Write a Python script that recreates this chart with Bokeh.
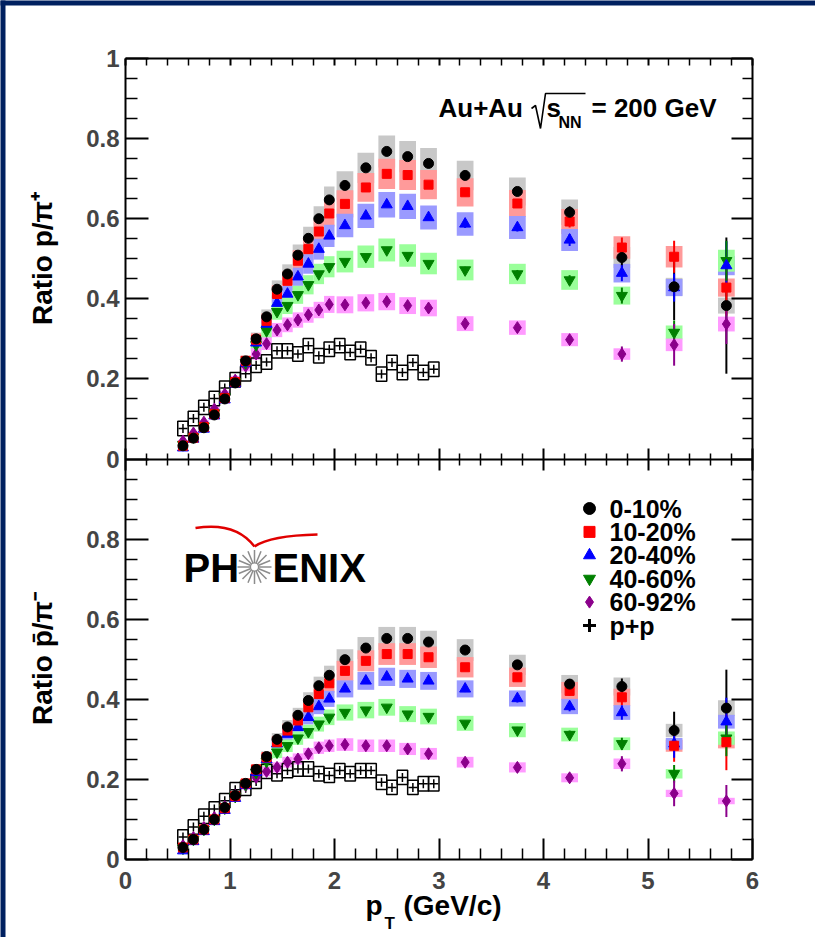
import numpy as np
from bokeh.plotting import figure
from bokeh.models import Range1d, LinearAxis, FixedTicker, Label, ColumnDataSource
from bokeh.embed import file_html
from bokeh.resources import INLINE
from bokeh.core.properties import value

# ------------------------------------------------------------------ data
centralities = ["0-10%", "10-20%", "20-40%", "40-60%", "60-92%"]
pp_name = "p+p"

pt_auau = [0.55, 0.65, 0.75, 0.85, 0.95, 1.05, 1.15, 1.25, 1.35, 1.45,
           1.55, 1.65, 1.75, 1.85, 1.95, 2.1, 2.3, 2.5, 2.7, 2.9,
           3.25, 3.75, 4.25, 4.75, 5.25, 5.75]
pt_pp = [0.55, 0.65, 0.75, 0.85, 0.95, 1.05, 1.15, 1.25, 1.35, 1.45,
         1.55, 1.65, 1.75, 1.85, 1.95, 2.05, 2.15, 2.25, 2.35, 2.45,
         2.55, 2.65, 2.75, 2.85, 2.95]

# p / pi+  (upper panel)
p_pip_0_10 = [0.033, 0.052, 0.078, 0.110, 0.150, 0.190, 0.245, 0.300, 0.355, 0.424,
              0.462, 0.509, 0.551, 0.600, 0.647, 0.683, 0.727, 0.768, 0.755, 0.738,
              0.708, 0.668, 0.616, 0.503, 0.430, 0.383]
p_pip_10_20 = [0.033, 0.053, 0.080, 0.112, 0.152, 0.192, 0.245, 0.298, 0.345, 0.412,
               0.445, 0.495, 0.524, 0.568, 0.613, 0.637, 0.678, 0.712, 0.709, 0.685,
               0.666, 0.638, 0.593, 0.528, 0.505, 0.428]
p_pip_20_40 = [0.028, 0.050, 0.075, 0.108, 0.148, 0.188, 0.240, 0.290, 0.337, 0.389,
               0.412, 0.455, 0.487, 0.524, 0.557, 0.583, 0.607, 0.635, 0.631, 0.603,
               0.587, 0.578, 0.547, 0.464, 0.428, 0.483]
p_pip_40_60 = [0.036, 0.055, 0.082, 0.115, 0.155, 0.193, 0.240, 0.285, 0.320, 0.368,
               0.383, 0.410, 0.435, 0.462, 0.480, 0.493, 0.505, 0.522, 0.508, 0.488,
               0.472, 0.462, 0.447, 0.408, 0.316, 0.495]
p_pip_60_92 = [0.045, 0.065, 0.092, 0.125, 0.162, 0.197, 0.232, 0.262, 0.288, 0.322,
               0.335, 0.347, 0.360, 0.372, 0.386, 0.385, 0.390, 0.393, 0.383, 0.377,
               0.338, 0.328, 0.298, 0.262, 0.285, 0.337]
p_pip_pp = [0.076, 0.101, 0.129, 0.151, 0.177, 0.198, 0.213, 0.234, 0.242, 0.270,
            0.270, 0.262, 0.283, 0.258, 0.274, 0.283, 0.266, 0.274, 0.253, 0.212,
            0.241, 0.216, 0.241, 0.216, 0.224]

# pbar / pi-  (lower panel)
pbar_pim_0_10 = [0.030, 0.050, 0.075, 0.100, 0.130, 0.160, 0.190, 0.225, 0.257, 0.300,
                 0.331, 0.360, 0.397, 0.434, 0.460, 0.499, 0.528, 0.552, 0.552, 0.543,
                 0.523, 0.486, 0.438, 0.432, 0.322, 0.378]
pbar_pim_10_20 = [0.030, 0.050, 0.075, 0.100, 0.128, 0.158, 0.190, 0.225, 0.255, 0.293,
                  0.322, 0.347, 0.380, 0.413, 0.440, 0.471, 0.496, 0.513, 0.513, 0.505,
                  0.480, 0.455, 0.421, 0.405, 0.284, 0.293]
pbar_pim_20_40 = [0.022, 0.045, 0.070, 0.095, 0.123, 0.153, 0.185, 0.218, 0.250, 0.289,
                  0.313, 0.330, 0.355, 0.382, 0.401, 0.426, 0.446, 0.456, 0.451, 0.446,
                  0.426, 0.402, 0.382, 0.367, 0.289, 0.344]
pbar_pim_40_60 = [0.028, 0.050, 0.075, 0.100, 0.128, 0.157, 0.187, 0.217, 0.245, 0.268,
                  0.284, 0.303, 0.319, 0.338, 0.355, 0.367, 0.373, 0.380, 0.363, 0.357,
                  0.340, 0.323, 0.312, 0.289, 0.214, 0.303]
pbar_pim_60_92 = [0.035, 0.055, 0.080, 0.105, 0.132, 0.160, 0.185, 0.205, 0.220, 0.230,
                  0.243, 0.251, 0.264, 0.279, 0.284, 0.287, 0.284, 0.284, 0.276, 0.264,
                  0.243, 0.230, 0.204, 0.239, 0.165, 0.146]
pbar_pim_pp = [0.056, 0.081, 0.108, 0.126, 0.147, 0.174, 0.178, 0.195, 0.220, 0.214,
               0.222, 0.226, 0.226, 0.214, 0.210, 0.222, 0.214, 0.222, 0.222, 0.193,
               0.180, 0.205, 0.180, 0.189, 0.189]

# statistical errors of the six highest-pT bins (3.25 ... 5.75 GeV/c);
# at lower pT they are hidden under the markers
stat_p_pip = [[0.010, 0.010, 0.015, 0.030, 0.083, 0.170],
              [0.010, 0.010, 0.015, 0.025, 0.040, 0.070],
              [0.010, 0.010, 0.015, 0.020, 0.035, 0.060],
              [0.008, 0.010, 0.012, 0.020, 0.030, 0.050],
              [0.005, 0.006, 0.008, 0.019, 0.052, 0.050]]
stat_pbar_pim = [[0.008, 0.010, 0.012, 0.020, 0.047, 0.096],
                 [0.008, 0.010, 0.012, 0.020, 0.040, 0.070],
                 [0.008, 0.010, 0.012, 0.018, 0.035, 0.060],
                 [0.006, 0.008, 0.010, 0.015, 0.022, 0.045],
                 [0.005, 0.006, 0.008, 0.019, 0.032, 0.040]]
# relative systematic uncertainty (box half height) per centrality, absolute for p+p
sys_rel = [0.052, 0.053, 0.050, 0.055, 0.055]
sys_pp = 0.018

x_tick_labels = ["0", "1", "2", "3", "4", "5", "6"]

# ------------------------------------------------------------------ style / layout
FONT = "Liberation Sans"
marker_colors = ["#000000", "#ff0000", "#0000ff", "#008000", "#8b008b"]
box_colors = ["#c8c8c8", "#ff9a9a", "#9a9aff", "#9aff9a", "#ff9aff"]
markers = ["circle", "square", "triangle", "inverted_triangle", "diamond"]
msizes = [10, 9, 11, 11, 12]
SLIDE_BLUE = "#002060"

W, H = 815, 937
# page pixel position of data x=0 / y=0 and the pixel scale of each unit
X_PX0, X_PX_PER = 125.0, 104.5
Y_PX0, Y_PX_PER = 859.0, 400.5


def dx(px):  # page pixel -> data x (layout helper for annotations)
    return (px - X_PX0) / X_PX_PER


def dy(py):  # page pixel -> data y of the default (lower panel) range
    return (Y_PX0 - py) / Y_PX_PER


p = figure(width=W, height=H, x_range=Range1d(dx(0), dx(W)), y_range=Range1d(dy(H), dy(0)),
           output_backend="svg", toolbar_location=None,
           x_axis_location=None, y_axis_location=None, min_border=0,
           min_border_left=0, min_border_right=0, min_border_top=0, min_border_bottom=0)
# upper panel: its value v sits at v + 1 of the lower-panel scale
p.extra_y_ranges = {"top": Range1d(dy(H) - 1, dy(0) - 1)}
p.background_fill_color = "white"
p.border_fill_color = "white"
p.outline_line_color = None
p.grid.visible = False

# dark slide border (left and top strips)
p.quad(left=[dx(-10), dx(-10)], right=[dx(5), dx(W + 10)],
       bottom=[dy(H + 10), dy(5)], top=[dy(-10), dy(-10)],
       fill_color=SLIDE_BLUE, line_color=None)

# ------------------------------------------------------------------ axes
x_major = list(range(7))
x_minor = [round(0.2 * k, 1) for k in range(31) if k % 5]
y_major = [round(0.2 * k, 1) for k in range(11)]
y_minor = [round(0.05 * k, 2) for k in range(41) if k % 4]
y_over = {t: ("%g" % (round(t - 1, 1) if t >= 1 else t)) for t in y_major}


def make_axis(loc, bounds, ticks, minor, maj_in, min_in, maj_out=0, min_out=0,
              labels=None):
    ax = LinearAxis(fixed_location=loc, bounds=bounds,
                    ticker=FixedTicker(ticks=ticks, minor_ticks=minor))
    ax.axis_line_width = 2
    ax.major_tick_in = maj_in
    ax.major_tick_out = maj_out
    ax.minor_tick_in = min_in
    ax.minor_tick_out = min_out
    ax.major_tick_line_width = 2
    ax.minor_tick_line_width = 1.5
    ax.major_label_text_font = FONT
    ax.major_label_text_font_style = "bold"
    ax.major_label_text_font_size = "24px"
    if labels is None:
        ax.major_label_text_color = None
    else:
        ax.major_label_overrides = labels
    return ax


xb = make_axis(0, (0, 6), x_major, x_minor, 21, 11,
               labels={i: s for i, s in zip(x_major, x_tick_labels)})
xb.major_label_standoff = 12
p.add_layout(xb, "below")
p.add_layout(make_axis(2, (0, 6), x_major, x_minor, 7, 7), "above")
# boundary between the panels: ticks point into both panels
p.add_layout(make_axis(1, (0, 6), x_major, x_minor, 11, 6, 11, 6), "below")

yl = make_axis(0, (0, 2), y_major, y_minor, 23, 12, labels=y_over)
yl.major_label_standoff = 6
p.add_layout(yl, "left")
p.add_layout(make_axis(6, (0, 2), y_major, y_minor, 21, 10), "right")


# ------------------------------------------------------------------ panels
def draw_panel(series, stats, pp_vals, range_name):
    kw = {"y_range_name": range_name} if range_name else {}
    pt = np.array(pt_auau)
    bw = np.where(pt < 2.0, 0.1, 0.16)
    # systematic boxes
    for vals, rel, col in zip(series, sys_rel, box_colors):
        v = np.array(vals)
        p.rect(x=pt, y=v, width=bw, height=2 * rel * v, fill_color=col,
               line_color=None, **kw)
    # p+p: open boxes + cross markers
    p.rect(x=pt_pp, y=pp_vals, width=0.1, height=2 * sys_pp, fill_color=None,
           line_color="black", line_width=1.5, **kw)
    p.scatter(x=pt_pp, y=pp_vals, marker="cross", size=9, line_color="black",
              line_width=1.5, **kw)
    # statistical error bars
    for vals, st, col in zip(series, stats, marker_colors):
        v = np.array(vals)
        e = np.concatenate([np.zeros(len(pt) - len(st)), np.array(st)])
        m = e > 0
        p.segment(x0=pt[m], y0=v[m] - e[m], x1=pt[m], y1=v[m] + e[m],
                  line_color=col, line_width=2, **kw)
    # markers (most central on top)
    for vals, col, mk, sz in reversed(list(zip(series, marker_colors, markers, msizes))):
        p.scatter(x=pt, y=vals, marker=mk, size=sz, fill_color=col, line_color=col, **kw)


draw_panel([p_pip_0_10, p_pip_10_20, p_pip_20_40, p_pip_40_60, p_pip_60_92],
           stat_p_pip, p_pip_pp, "top")
draw_panel([pbar_pim_0_10, pbar_pim_10_20, pbar_pim_20_40, pbar_pim_40_60, pbar_pim_60_92],
           stat_pbar_pim, pbar_pim_pp, None)

# ------------------------------------------------------------------ legend (lower panel)
leg_labels = centralities + [pp_name]
leg_y = [dy(508 + 23.4 * i) for i in range(len(leg_labels))]
leg_src = ColumnDataSource(dict(
    x=[dx(589)] * len(leg_labels), y=leg_y, tx=[dx(609)] * len(leg_labels),
    label=leg_labels, marker=markers + ["cross"], color=marker_colors + ["#000000"],
    size=[12, 11, 12, 12, 12, 13], lw=[1, 1, 1, 1, 1, 3]))
p.scatter(x="x", y="y", marker="marker", size="size", fill_color="color",
          line_color="color", line_width="lw", source=leg_src)
p.text(x="tx", y="y", text="label", source=leg_src, text_font=value(FONT),
       text_font_style="bold", text_font_size="25px", text_baseline="middle",
       text_color="black")


# ------------------------------------------------------------------ texts
def add_label(px, py, text, size, align="left", angle=0.0, color="black"):
    # (px, py): page position of the left edge / vertical centre of the text
    p.add_layout(Label(x=dx(px), y=dy(py), text=text, text_font=FONT,
                       text_font_size=f"{size}px", text_font_style="bold",
                       text_align=align, text_baseline="middle", angle=angle,
                       text_color=color))


# collision system
add_label(438, 107.5, "Au+Au", 26)
p.line(x=[dx(531), dx(535), dx(540), dx(545), dx(585)],
       y=[dy(108), dy(105), dy(128), dy(93), dy(93)], line_color="black", line_width=1.6)
add_label(546, 107.5, "s", 26)
add_label(558, 121.5, "NN", 16)
add_label(591, 107.5, "= 200 GeV", 26)

# axis titles
add_label(42, 258, "Ratio p/\u03c0\u207a", 28, align="center", angle=np.pi / 2)
add_label(42, 658, "Ratio p\u0304/\u03c0\u207b", 28, align="center", angle=np.pi / 2)
add_label(365, 905, "p", 28)
add_label(384, 923, "T", 17)
add_label(403, 905, "(GeV/c)", 28)

# PHENIX logo
add_label(183, 567.5, "PH", 40)
add_label(272, 567.5, "ENIX", 40)
n_rays = 16
p.ray(x=[dx(254)] * n_rays, y=[dy(566.5)] * n_rays, length=17, length_units="screen",
      angle=[2 * np.pi * k / n_rays for k in range(n_rays)], line_color="#8c8c8c", line_width=1.5)
p.scatter(x=[dx(254)], y=[dy(566.5)], marker="circle", size=8, fill_color="white",
          line_color="#8c8c8c", line_width=1.2)
p.quadratic(x0=[dx(195)], y0=[dy(527.5)], cx=[dx(235)], cy=[dy(521)], x1=[dx(254)], y1=[dy(546)],
            line_color="#e00000", line_width=2.5)
p.quadratic(x0=[dx(254)], y0=[dy(546)], cx=[dx(270)], cy=[dy(535)], x1=[dx(317)], y1=[dy(534)],
            line_color="#e00000", line_width=2.5)

open("out.html", "w").write(file_html(p, INLINE, title="p/pi ratio"))
